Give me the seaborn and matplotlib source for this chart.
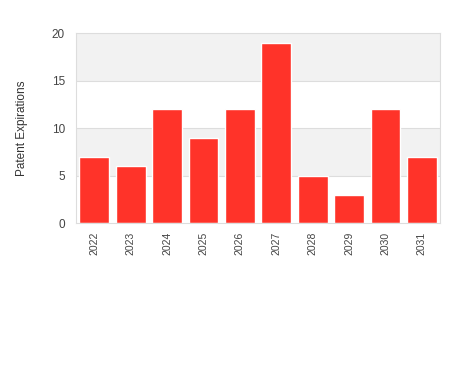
import matplotlib
matplotlib.use("Agg")
import matplotlib.pyplot as plt
import seaborn as sns
import pandas as pd

years = ["2022", "2023", "2024", "2025", "2026", "2027", "2028", "2029", "2030", "2031"]
expirations = [7, 6, 12, 9, 12, 19, 5, 3, 12, 7]
y_ticks = [0, 5, 10, 15, 20]

sns.set_style("white")
plt.rcParams['font.family'] = ['Liberation Sans', 'DejaVu Sans']

df = pd.DataFrame({"year": years, "count": expirations})

fig = plt.figure(figsize=(4.5, 3.75), dpi=100)
ax = fig.add_axes([0.169, 0.405, 0.809, 0.507])

# alternating bands
for i in range(len(y_ticks) - 1):
    if i % 2 == 1:
        ax.axhspan(y_ticks[i], y_ticks[i + 1], color="#f2f2f2", zorder=0, lw=0)
for t in y_ticks[1:-1]:
    ax.axhline(t, color="#dddddd", lw=0.8, zorder=0.5)

sns.barplot(data=df, x="year", y="count", color="#ff3329", saturation=1,
            width=0.82, ax=ax, zorder=2)

ax.set_ylim(0, 20)
ax.set_xlim(-0.5, len(years) - 0.5)
ax.set_yticks(y_ticks)
ax.set_xlabel("")
ax.set_ylabel("Patent Expirations", fontsize=8.5, color="#333333", labelpad=17)
ax.tick_params(axis="y", labelsize=8.5, colors="#444444", length=0, pad=8)
ax.tick_params(axis="x", labelsize=7.5, colors="#444444", length=0, rotation=90, pad=6)
for s in ax.spines.values():
    s.set_color("#dddddd")
    s.set_linewidth(0.8)

fig.savefig("out.png", dpi=100)
